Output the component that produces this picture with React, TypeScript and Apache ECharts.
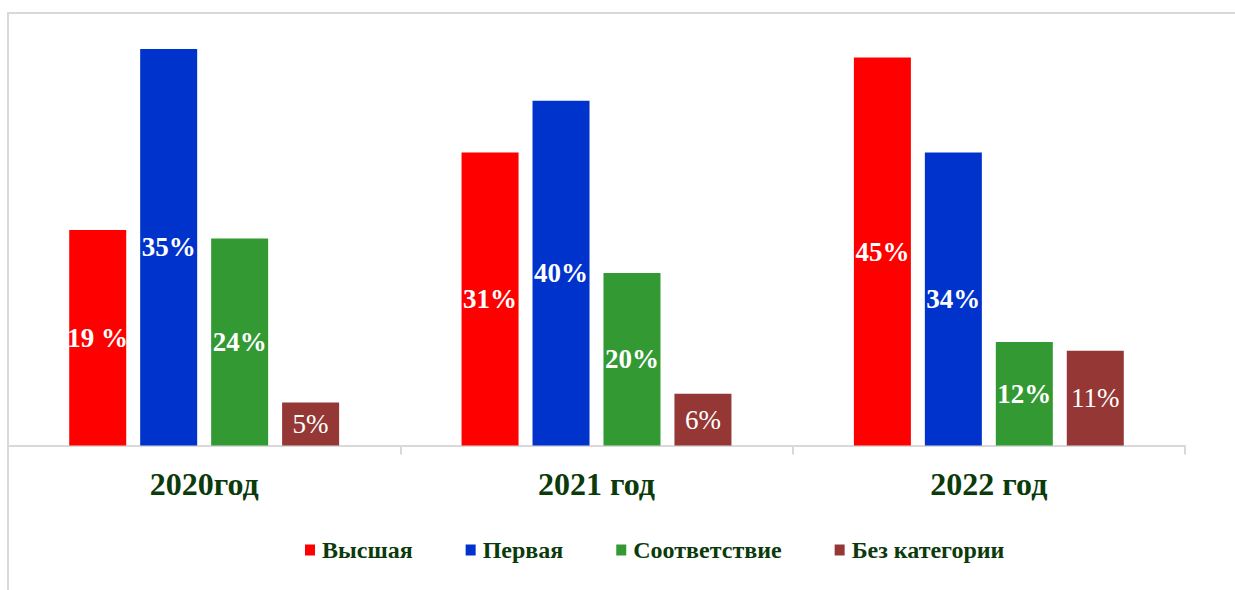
import React, { useEffect, useRef } from "react";
import * as echarts from "echarts";

const categories = ["2020год", "2021 год", "2022 год"];
const seriesNames = ["Высшая", "Первая", "Соответствие", "Без категории"];
const colors = ["#FF0000", "#0033CC", "#339933", "#953735"];
// bar heights as drawn in the picture (percent scale)
const vysshaya = [25, 34, 45];
const pervaya = [46, 40, 34];
const sootvetstvie = [24, 20, 12];
const bezKategorii = [5, 6, 11];
// label texts printed on the bars
const vysshayaLabels = ["19 %", "31%", "45%"];
const pervayaLabels = ["35%", "40%", "34%"];
const sootvetstvieLabels = ["24%", "20%", "12%"];
const bezKategoriiLabels = ["5%", "6%", "11%"];

const values = [vysshaya, pervaya, sootvetstvie, bezKategorii];
const labels = [vysshayaLabels, pervayaLabels, sootvetstvieLabels, bezKategoriiLabels];

const FONT = "'Liberation Serif', 'Times New Roman', serif";
const TEXT_GREEN = "#0B3A0B";

export default function App() {
  const ref = useRef<HTMLDivElement>(null);
  useEffect(() => {
    if (!ref.current) return;
    const chart = echarts.init(ref.current, null, { renderer: "svg" });
    chart.setOption({
      animation: false,
      backgroundColor: "#ffffff",
      graphic: [
        {
          type: "rect",
          shape: { x: 8, y: 13, width: 1240, height: 600 },
          style: { fill: "none", stroke: "#d9d9d9", lineWidth: 2 },
          silent: true,
          z: -1,
        },
      ],
      grid: { left: 8, right: 50, top: 14.5, bottom: 144.5, containLabel: false },
      legend: {
        left: 300,
        top: 533,
        icon: "rect",
        itemWidth: 10,
        itemHeight: 11,
        itemGap: 53,
        textStyle: { fontFamily: FONT, fontWeight: "bold", fontSize: 24, color: TEXT_GREEN, padding: [0, 0, 0, 2] },
        data: seriesNames,
      },
      xAxis: {
        type: "category",
        data: categories,
        boundaryGap: true,
        axisLine: { show: true, lineStyle: { color: "#d9d9d9", width: 2 } },
        axisTick: { show: true, length: 9, lineStyle: { color: "#d9d9d9", width: 2 } },
        axisLabel: {
          margin: 22,
          fontFamily: FONT,
          fontWeight: "bold",
          fontSize: 32,
          color: TEXT_GREEN,
        },
      },
      yAxis: {
        type: "value",
        min: 0,
        max: 50,
        show: false,
        splitLine: { show: false },
      },
      series: values.map((v, i) => ({
        name: seriesNames[i],
        type: "bar",
        data: v,
        barWidth: 57,
        barGap: "24.5%",
        itemStyle: { color: colors[i] },
        label: {
          show: true,
          position: "inside",
          color: "#ffffff",
          fontFamily: FONT,
          fontWeight: i === 3 ? "normal" : "bold",
          fontSize: 27,
          formatter: (p: any) => labels[i][p.dataIndex],
        },
      })),
    });
    return () => chart.dispose();
  }, []);
  return (
    <div
      ref={ref}
      style={{ position: "absolute", left: 0, top: 0, width: 1235, height: 590 }}
    />
  );
}
